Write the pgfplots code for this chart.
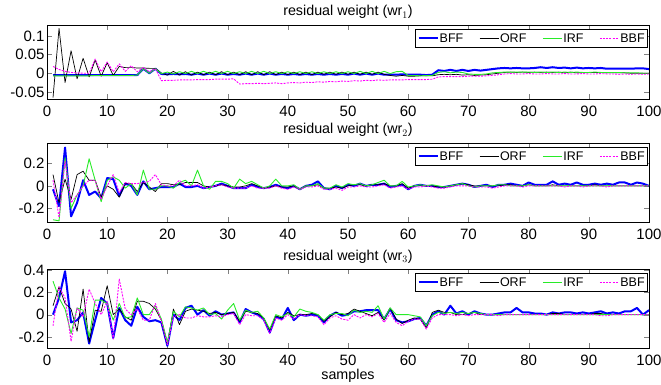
\documentclass[border=0pt]{standalone}
\usepackage{fontspec}
\setmainfont{Liberation Sans}
\usepackage{pgfplots}
\usepackage{pgfplotstable}
\pgfplotsset{compat=1.18}
\definecolor{cblue}{RGB}{0,0,255}
\definecolor{cgreen}{RGB}{40,235,40}
\definecolor{cmag}{RGB}{255,0,255}

\pgfplotstableread{
x bff orf irf bbf
1 -0.005 -0.065 -0.007 0.018
2 -0.005 0.120 -0.007 0.010
3 -0.005 -0.025 -0.007 0.005
4 -0.005 0.060 -0.007 0.002
5 -0.005 -0.015 -0.007 0.001
6 -0.005 0.040 -0.007 0.000
7 -0.005 -0.010 -0.007 0.000
8 -0.005 0.035 -0.006 0.038
9 -0.005 -0.008 -0.006 0.004
10 -0.005 0.028 -0.006 0.030
11 -0.005 -0.006 -0.006 0.004
12 -0.005 0.018 -0.006 0.025
13 -0.005 0.015 -0.006 0.005
14 -0.005 0.015 -0.006 0.020
15 -0.005 0.014 -0.005 0.004
16 0.012 0.014 0.012 0.015
17 0.000 0.013 0.000 0.004
18 0.012 0.013 0.012 0.012
19 -0.002 0.000 -0.001 -0.020
20 -0.003 -0.005 0.003 -0.019
21 -0.002 0.005 -0.002 -0.019
22 -0.003 -0.005 0.004 -0.018
23 -0.002 0.004 -0.001 -0.018
24 -0.004 -0.005 0.005 -0.018
25 -0.001 0.003 -0.001 -0.017
26 -0.004 -0.004 0.005 -0.017
27 -0.001 0.003 -0.001 -0.017
28 -0.004 -0.004 0.005 -0.016
29 -0.001 0.004 -0.001 -0.016
30 -0.004 -0.004 0.005 -0.016
31 -0.002 0.003 -0.001 -0.015
32 -0.004 -0.004 0.004 -0.029
33 -0.001 0.004 -0.001 -0.028
34 -0.004 -0.004 0.005 -0.028
35 -0.001 0.004 -0.001 -0.027
36 -0.004 -0.004 0.005 -0.028
37 -0.001 0.004 -0.001 -0.027
38 -0.004 -0.004 0.004 -0.026
39 -0.002 0.003 -0.001 -0.028
40 -0.004 -0.004 0.004 -0.026
41 -0.002 0.003 -0.001 -0.025
42 -0.004 -0.004 0.004 -0.026
43 -0.002 0.003 -0.001 -0.024
44 -0.004 -0.004 0.004 -0.025
45 -0.002 0.003 -0.001 -0.023
46 -0.004 -0.003 0.004 -0.024
47 -0.002 0.003 -0.001 -0.022
48 -0.004 -0.003 0.004 -0.023
49 -0.002 0.003 -0.001 -0.021
50 -0.004 -0.003 0.004 -0.022
51 -0.001 0.003 -0.001 -0.020
52 -0.004 -0.003 0.005 -0.021
53 -0.001 0.003 -0.001 -0.019
54 -0.004 -0.003 0.005 -0.020
55 -0.001 0.003 -0.001 -0.018
56 -0.004 -0.003 0.005 -0.019
57 -0.004 -0.006 -0.001 -0.018
58 -0.004 -0.008 0.004 -0.018
59 -0.003 -0.006 0.005 -0.018
60 -0.004 -0.008 -0.006 -0.017
61 -0.004 -0.008 -0.006 -0.017
62 -0.004 -0.007 -0.007 -0.017
63 -0.005 -0.007 -0.006 -0.017
64 -0.004 -0.007 -0.006 -0.016
65 0.008 -0.004 0.002 -0.010
66 0.006 -0.003 0.004 -0.009
67 0.009 -0.004 0.001 -0.009
68 0.006 -0.003 0.003 -0.009
69 0.009 -0.005 0.002 -0.009
70 0.006 -0.004 -0.002 -0.008
71 0.009 -0.006 -0.003 -0.008
72 0.007 -0.005 -0.003 -0.008
73 0.009 -0.004 -0.002 -0.007
74 0.011 -0.002 0.001 -0.006
75 0.013 0.000 0.002 -0.004
76 0.014 0.002 0.003 -0.002
77 0.013 0.003 0.003 -0.001
78 0.014 0.002 0.003 -0.002
79 0.013 0.003 0.003 -0.002
80 0.013 0.002 0.003 -0.001
81 0.014 0.003 0.002 -0.002
82 0.016 0.002 0.003 -0.002
83 0.014 0.003 0.002 -0.001
84 0.016 0.002 0.003 -0.002
85 0.014 0.003 0.002 -0.002
86 0.015 0.001 0.003 -0.001
87 0.013 0.003 0.002 -0.002
88 0.015 0.001 0.003 -0.002
89 0.013 0.002 0.002 -0.001
90 0.014 0.002 0.002 -0.002
91 0.013 0.002 0.003 -0.002
92 0.014 0.002 0.002 -0.001
93 0.012 0.001 0.002 -0.002
94 0.012 0.001 0.002 -0.002
95 0.012 0.001 0.002 -0.003
96 0.012 0.001 0.001 -0.002
97 0.012 0.000 0.001 -0.003
98 0.013 0.000 0.001 -0.002
99 0.013 0.000 0.000 -0.003
100 0.011 0.000 0.000 -0.002
}\wra

\pgfplotstableread{
x bff orf irf bbf
1 -0.03 0.10 -0.30 0.05
2 -0.18 -0.15 -0.31 -0.28
3 0.34 0.06 0.25 0.22
4 -0.27 -0.12 -0.20 -0.15
5 -0.15 0.10 -0.08 -0.08
6 0.05 0.13 0.00 0.00
7 -0.08 0.05 0.24 0.05
8 -0.05 0.05 0.05 0.05
9 -0.11 -0.10 -0.14 -0.12
10 0.07 0.00 0.05 0.00
11 0.06 -0.03 0.08 0.10
12 -0.09 -0.10 0.05 -0.06
13 0.02 0.02 -0.02 0.03
14 0.00 0.02 0.02 0.02
15 -0.08 -0.05 -0.08 0.02
16 0.04 0.03 0.14 0.03
17 -0.03 -0.01 -0.03 0.04
18 -0.02 -0.05 -0.03 0.10
19 -0.01 0.02 0.00 0.01
20 -0.01 0.02 0.00 0.00
21 -0.01 0.01 -0.02 0.00
22 0.02 0.01 0.03 0.05
23 -0.01 0.03 0.05 0.00
24 -0.01 0.03 0.00 0.00
25 0.00 0.03 0.14 0.01
26 -0.02 0.00 0.00 -0.02
27 -0.01 -0.01 -0.03 -0.01
28 0.00 0.00 0.04 0.00
29 0.02 0.01 0.04 0.01
30 0.00 0.00 0.02 -0.01
31 -0.02 -0.01 -0.02 -0.02
32 -0.02 -0.01 0.06 -0.02
33 -0.02 0.00 0.02 -0.02
34 0.01 0.02 0.04 0.00
35 -0.01 0.00 0.01 -0.02
36 -0.02 -0.02 -0.02 -0.02
37 -0.01 -0.01 0.00 -0.02
38 0.01 0.00 0.06 0.00
39 -0.01 -0.01 0.00 -0.02
40 -0.02 -0.01 0.00 -0.03
41 0.00 0.00 0.01 -0.01
42 -0.03 -0.03 -0.03 -0.03
43 0.00 0.00 0.00 -0.01
44 0.01 0.00 0.00 -0.01
45 0.04 0.01 0.02 0.00
46 -0.02 -0.02 -0.02 -0.03
47 -0.03 -0.02 -0.02 -0.03
48 0.00 -0.01 0.01 -0.02
49 -0.02 -0.02 -0.01 -0.04
50 0.01 0.00 0.02 -0.01
51 0.00 0.01 0.01 -0.01
52 0.02 0.01 0.02 0.00
53 0.00 0.00 0.00 -0.01
54 0.01 0.01 0.01 -0.01
55 0.01 0.01 0.03 0.00
56 0.02 0.02 0.05 0.01
57 -0.01 0.00 0.00 -0.02
58 0.00 0.00 0.00 -0.01
59 0.01 0.02 0.04 0.00
60 -0.03 -0.02 -0.01 -0.03
61 0.00 0.00 0.00 -0.01
62 0.01 0.00 0.01 -0.01
63 0.00 0.00 0.00 0.00
64 0.00 0.00 0.01 -0.01
65 -0.01 -0.01 0.00 -0.02
66 -0.01 -0.01 -0.01 -0.02
67 0.00 0.00 0.00 -0.01
68 0.01 0.01 0.01 0.00
69 0.02 0.02 0.02 0.00
70 0.01 0.01 0.00 0.00
71 -0.01 0.00 -0.01 -0.01
72 0.00 0.00 0.00 -0.01
73 0.01 0.00 0.00 -0.01
74 -0.01 0.00 0.00 -0.02
75 0.01 0.00 0.01 -0.01
76 0.01 0.01 0.01 0.00
77 0.02 0.01 0.00 0.00
78 0.01 0.00 0.00 0.00
79 0.00 0.00 0.00 -0.01
80 0.03 0.01 0.01 0.00
81 0.01 0.00 0.00 0.00
82 0.01 0.00 0.00 0.00
83 0.01 0.00 0.00 0.00
84 0.04 0.01 0.00 0.00
85 0.01 0.00 0.00 0.00
86 0.02 0.00 0.00 -0.01
87 0.01 0.00 0.00 0.00
88 0.03 0.00 0.00 0.00
89 0.01 0.00 0.00 -0.01
90 0.01 0.00 0.00 0.00
91 0.02 0.01 0.00 0.00
92 0.01 0.00 0.00 0.00
93 0.02 0.00 0.00 -0.01
94 0.01 0.00 0.00 0.00
95 0.03 0.00 0.00 0.00
96 0.03 0.00 0.00 0.00
97 0.01 0.00 0.00 0.00
98 0.03 0.00 0.00 0.00
99 0.02 0.00 0.00 0.00
100 0.00 0.00 0.00 0.00
}\wrb

\pgfplotstableread{
x bff orf irf bbf
1 0.00 0.08 0.30 -0.10
2 0.15 0.25 0.15 0.25
3 0.39 0.10 0.05 0.15
4 -0.07 0.05 -0.17 -0.24
5 -0.05 -0.15 0.06 0.06
6 0.02 0.23 0.04 -0.02
7 -0.26 -0.25 -0.20 0.23
8 -0.05 0.04 0.13 0.10
9 0.15 0.03 0.13 0.00
10 0.10 0.26 0.10 0.12
11 -0.21 0.00 -0.05 -0.22
12 0.06 0.05 0.10 0.32
13 -0.05 -0.02 -0.03 0.05
14 -0.10 -0.05 -0.02 0.00
15 0.07 0.12 0.15 0.05
16 -0.02 0.12 0.00 -0.05
17 -0.06 0.10 0.00 -0.05
18 -0.05 0.05 0.08 0.10
19 -0.07 -0.05 -0.04 -0.06
20 -0.28 -0.27 -0.25 -0.27
21 0.00 0.05 0.03 -0.02
22 -0.05 -0.09 -0.02 0.00
23 0.06 0.03 0.07 -0.03
24 0.08 0.05 0.06 -0.03
25 0.00 0.04 0.04 -0.01
26 0.04 0.03 0.06 -0.02
27 -0.01 0.01 0.00 -0.02
28 0.03 0.02 0.01 -0.01
29 0.00 0.00 -0.04 -0.02
30 0.01 0.01 0.04 0.00
31 0.02 0.02 0.10 0.01
32 -0.07 -0.06 -0.05 -0.09
33 0.05 0.03 0.04 0.00
34 0.02 0.02 0.02 -0.01
35 0.00 0.01 0.03 -0.01
36 -0.04 -0.03 -0.03 -0.05
37 -0.16 -0.14 -0.13 -0.17
38 -0.02 -0.01 0.00 -0.03
39 -0.04 -0.03 -0.02 -0.05
40 0.06 0.02 0.01 0.00
41 -0.05 -0.01 -0.02 -0.04
42 0.00 0.00 0.05 0.00
43 -0.01 0.00 0.03 -0.01
44 0.00 0.01 0.02 -0.01
45 -0.01 0.00 0.00 -0.02
46 -0.07 -0.06 -0.05 -0.09
47 -0.01 -0.02 0.00 -0.03
48 0.02 0.02 0.01 -0.01
49 -0.01 0.00 0.01 -0.04
50 0.00 0.01 -0.01 -0.05
51 0.03 0.05 0.04 0.00
52 0.03 0.03 0.02 -0.03
53 0.04 0.01 0.03 0.00
54 0.04 -0.01 0.02 -0.02
55 0.04 0.02 0.08 0.01
56 -0.04 -0.05 -0.04 -0.07
57 0.05 0.06 0.06 0.01
58 -0.05 -0.04 0.00 -0.07
59 -0.07 -0.08 0.00 -0.10
60 -0.06 -0.05 0.00 -0.06
61 -0.04 -0.03 -0.01 -0.04
62 -0.03 -0.04 -0.02 -0.04
63 -0.10 -0.12 -0.10 -0.13
64 0.00 0.02 -0.01 -0.03
65 0.03 0.04 0.02 0.00
66 0.00 0.02 0.01 0.00
67 0.08 0.02 0.02 0.00
68 0.01 0.00 0.01 -0.01
69 0.03 0.00 0.02 0.00
70 0.00 0.01 0.01 -0.01
71 0.03 0.02 0.02 0.00
72 0.01 0.00 0.01 0.00
73 0.00 0.00 0.00 0.00
74 0.00 0.00 0.00 0.00
75 0.01 0.00 0.00 -0.01
76 0.02 0.00 0.00 0.00
77 0.02 0.00 0.00 0.00
78 0.06 0.00 0.00 0.00
79 0.02 0.00 0.00 0.00
80 0.02 0.00 0.00 0.00
81 0.01 0.00 0.00 0.00
82 0.01 0.00 0.00 0.00
83 0.00 0.00 0.00 0.00
84 0.02 0.01 0.00 0.00
85 0.01 0.01 0.00 0.00
86 0.02 0.00 0.00 0.00
87 0.02 0.00 0.00 0.00
88 0.01 0.00 0.00 0.00
89 0.02 0.00 0.00 0.00
90 0.01 0.00 0.00 0.00
91 0.02 0.01 0.00 0.00
92 0.03 0.01 0.00 -0.01
93 0.01 0.00 0.00 -0.01
94 0.02 0.00 0.00 0.00
95 0.01 0.00 0.00 0.00
96 0.03 0.00 0.00 0.00
97 0.03 0.00 0.00 0.00
98 0.06 0.00 0.00 0.00
99 0.00 0.00 0.00 0.00
100 0.04 0.00 0.00 0.00
}\wrc

\pgfplotsset{
  mystyle/.style={
    scale only axis, width=602pt,
    xmin=0, xmax=100,
    xtick={0,10,20,30,40,50,60,70,80,90,100},
    xticklabels={0,10,20,30,40,50,60,70,80,90,100},
    tick align=inside, major tick length=5pt,
    tick label style={font=\fontsize{15}{15}\selectfont},
    xticklabel style={yshift=-3pt},
    yticklabel style={xshift=1pt},
    title style={font=\fontsize{14.3}{15}\selectfont, at={(0.5,1)}, anchor=base, yshift=3pt},
    legend style={at={(1,1)}, anchor=north east, xshift=-1pt, yshift=-4pt,
      legend columns=4, font=\fontsize{12.5}{13}\selectfont, draw=black,
      line width=0.7pt,
      inner xsep=2pt, inner ysep=2pt,
      /tikz/every even column/.append style={column sep=15pt},
      nodes={inner xsep=1pt}},
    legend image code/.code={\draw[#1] (0pt,0pt) -- (19pt,0pt);},
    every axis plot/.append style={line join=round},
    axis line style={line width=0.7pt},
  },
  bffs/.style={cblue, line width=2pt},
  orfs/.style={black, line width=0.7pt},
  irfs/.style={cgreen, line width=0.9pt},
  bbfs/.style={cmag, line width=0.9pt, dash pattern=on 2pt off 1.2pt},
}

\begin{document}
\begin{tikzpicture}
\useasboundingbox (0,0) rectangle (661pt,-385pt);
\begin{axis}[mystyle, at={(47pt,-25pt)}, anchor=north west, height=74pt,
  ymin=-0.069, ymax=0.129,
  ytick={-0.05,0,0.05,0.1}, yticklabels={-0.05,0,0.05,0.1},
  title={residual weight (wr$_1$)}]
\addplot[bffs] table[x=x,y=bff]{\wra};
\addplot[orfs] table[x=x,y=orf]{\wra};
\addplot[irfs] table[x=x,y=irf]{\wra};
\addplot[bbfs] table[x=x,y=bbf]{\wra};
\legend{BFF,ORF,IRF,BBF}
\end{axis}
\begin{axis}[mystyle, at={(47pt,-143pt)}, anchor=north west, height=79pt,
  ymin=-0.32, ymax=0.38,
  ytick={-0.2,0,0.2}, yticklabels={-0.2,0,0.2},
  title={residual weight (wr$_2$)}]
\addplot[bffs] table[x=x,y=bff]{\wrb};
\addplot[orfs] table[x=x,y=orf]{\wrb};
\addplot[irfs] table[x=x,y=irf]{\wrb};
\addplot[bbfs] table[x=x,y=bbf]{\wrb};
\legend{BFF,ORF,IRF,BBF}
\end{axis}
\begin{axis}[mystyle, at={(47pt,-269pt)}, anchor=north west, height=79pt,
  ymin=-0.3, ymax=0.41,
  ytick={-0.2,0,0.2,0.4}, yticklabels={-0.2,0,0.2,0.4},
  xlabel={samples}, xlabel style={font=\fontsize{14.3}{15}\selectfont, yshift=3pt},
  title={residual weight (wr$_3$)}]
\addplot[bffs] table[x=x,y=bff]{\wrc};
\addplot[orfs] table[x=x,y=orf]{\wrc};
\addplot[irfs] table[x=x,y=irf]{\wrc};
\addplot[bbfs] table[x=x,y=bbf]{\wrc};
\legend{BFF,ORF,IRF,BBF}
\end{axis}
\end{tikzpicture}
\end{document}
